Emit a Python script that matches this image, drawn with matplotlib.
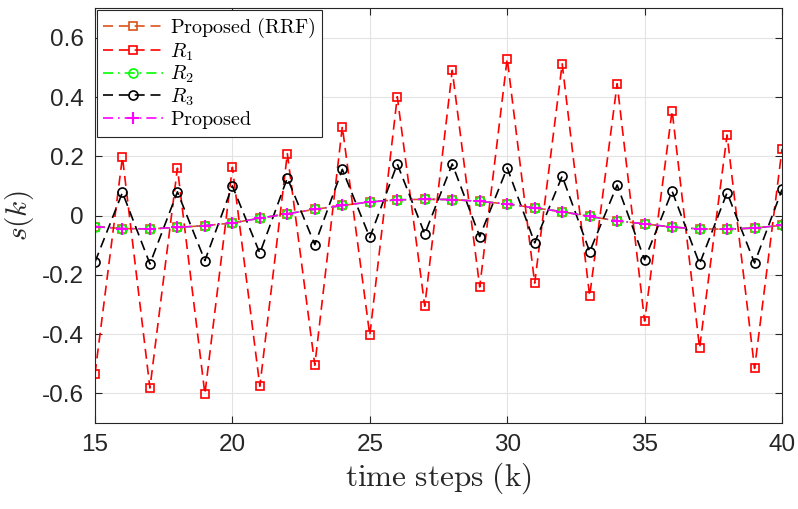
import matplotlib
matplotlib.use("Agg")
import matplotlib.pyplot as plt
import numpy as np

k = list(range(15, 41))

r1 = [-0.535, 0.197, -0.582, 0.160, -0.602, 0.163, -0.576, 0.209, -0.505, 0.300,
      -0.404, 0.401, -0.306, 0.490, -0.241, 0.530, -0.228, 0.512, -0.272, 0.445,
      -0.356, 0.354, -0.447, 0.272, -0.516, 0.225]

r3 = [-0.157, 0.078, -0.163, 0.080, -0.152, 0.100, -0.127, 0.127, -0.098, 0.156,
      -0.074, 0.174, -0.062, 0.174, -0.071, 0.161, -0.092, 0.133, -0.122, 0.103,
      -0.149, 0.082, -0.163, 0.077, -0.160, 0.088]

proposed = [-0.037, -0.044, -0.045, -0.040, -0.034, -0.025, -0.009, 0.006, 0.021, 0.034,
            0.046, 0.053, 0.055, 0.054, 0.048, 0.039, 0.026, 0.013, -0.003, -0.018,
            -0.028, -0.039, -0.045, -0.046, -0.042, -0.033]

rrf = [-0.037, -0.044, -0.045, -0.040, -0.034, -0.025, -0.009, 0.006, 0.021, 0.034,
       0.046, 0.053, 0.055, 0.054, 0.048, 0.039, 0.026, 0.013, -0.003, -0.018,
       -0.028, -0.039, -0.045, -0.046, -0.042, -0.033]

r2 = [-0.037, -0.044, -0.045, -0.040, -0.034, -0.025, -0.009, 0.006, 0.021, 0.034,
      0.046, 0.053, 0.055, 0.054, 0.048, 0.039, 0.026, 0.013, -0.003, -0.018,
      -0.028, -0.039, -0.045, -0.046, -0.042, -0.033]

xticks = [15, 20, 25, 30, 35, 40]
yticks = [-0.6, -0.4, -0.2, 0, 0.2, 0.4, 0.6]
ytick_labels = ['-0.6', '-0.4', '-0.2', '0', '0.2', '0.4', '0.6']

plt.rcParams['mathtext.fontset'] = 'cm'
plt.rcParams['font.family'] = ['Liberation Sans', 'DejaVu Sans']
plt.rcParams['axes.unicode_minus'] = False

fig = plt.figure(figsize=(7.98, 5.09), dpi=100)
ax = fig.add_axes([0.119, 0.169, 0.861, 0.815])

lw = 1.2
dash = (6, 3.5)
dashdot = (6, 3, 1, 3)

ax.plot(k, rrf, color='#D95319', lw=lw, dashes=dash, marker='s', ms=5.5,
        mfc='none', mew=1.2, label=r'$\mathrm{Proposed\ (RRF)}$')
ax.plot(k, r1, color='#FF0000', lw=lw, dashes=dash, marker='s', ms=5.5,
        mfc='none', mew=1.2, label=r'$R_1$')
ax.plot(k, r2, color='#00FF00', lw=lw, dashes=dashdot, marker='o', ms=6.5,
        mfc='none', mew=1.2, label=r'$R_2$')
ax.plot(k, r3, color='#000000', lw=lw, dashes=dash, marker='o', ms=6.5,
        mfc='none', mew=1.2, label=r'$R_3$')
ax.plot(k, proposed, color='#FF00FF', lw=lw, dashes=dashdot, marker='+', ms=9,
        mew=1.5, label=r'$\mathrm{Proposed}$')

ax.set_xlim(15, 40)
ax.set_ylim(-0.7, 0.7)
ax.set_xticks(xticks)
ax.set_yticks(yticks)
ax.set_yticklabels(ytick_labels)
ax.tick_params(axis='both', direction='in', length=5, width=0.8, labelsize=17.5,
               colors='#262626', top=True, right=True, pad=8)
ax.grid(True, color='#e3e3e3', lw=0.8)
ax.set_axisbelow(True)
for s in ax.spines.values():
    s.set_color('#262626')
    s.set_linewidth(0.8)

ax.set_xlabel(r'$\mathrm{time\ steps\ (k)}$', fontsize=22.5, color='#262626', labelpad=3)
ax.set_ylabel(r'$s(k)$', fontsize=21, color='#262626', labelpad=4)

leg = ax.legend(loc='upper left', fontsize=14.5, handlelength=3.0, handletextpad=0.35,
                labelspacing=0.05, borderpad=0.3, borderaxespad=0.1,
                fancybox=False, framealpha=1, edgecolor='#262626', markerscale=1.0)
leg.get_frame().set_linewidth(0.8)
for h in leg.get_lines():
    h.set_markevery([1])

fig.savefig('out.png', dpi=100)
